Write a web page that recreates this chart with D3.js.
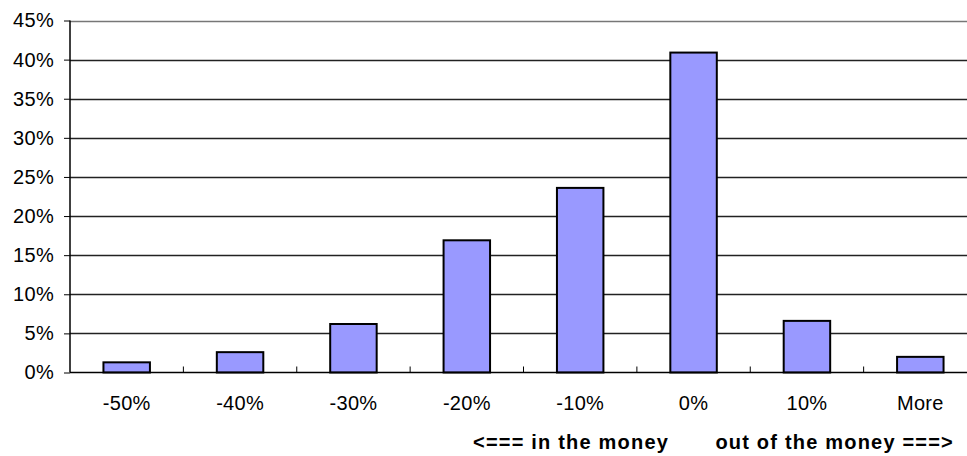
<!DOCTYPE html>
<html><head><meta charset="utf-8">
<script src="https://cdn.jsdelivr.net/npm/d3@7"></script>
<style>
body{margin:0;background:#fff;}
text{font-family:"Liberation Sans",Arial,sans-serif;}
</style></head>
<body><svg id="c" width="967" height="456"></svg>
<script>
const categories = ["-50%","-40%","-30%","-20%","-10%","0%","10%","More"];
const values = [1.3, 2.6, 6.2, 16.9, 23.6, 40.9, 6.6, 2.0];
const yTicks = [0,5,10,15,20,25,30,35,40,45];

(function(){
const svg = d3.select("#c");
const pl = 70, pr = 977, pt = 20.5, pb = 372.5;
const x = d3.scaleBand().domain(categories).range([pl, pr]).paddingInner(0.59).paddingOuter(0.295);
const y = d3.scaleLinear().domain([0,45]).range([pb, pt]);

// gridlines
svg.append("g").selectAll("line").data(yTicks.filter(d=>d>0)).join("line")
  .attr("x1", pl).attr("x2", pr)
  .attr("y1", d=>Math.round(y(d))+0.5).attr("y2", d=>Math.round(y(d))+0.5)
  .attr("stroke", d=> d===45 ? "#777" : "#222").attr("stroke-width", 1.3);

// bars
svg.append("g").selectAll("rect").data(values).join("rect")
  .attr("x", (d,i)=>x(categories[i]))
  .attr("width", x.bandwidth())
  .attr("y", d=>y(d))
  .attr("height", d=>pb - y(d))
  .attr("fill", "#9999ff").attr("stroke", "#000").attr("stroke-width", 2);

// y axis
const ya = svg.append("g").attr("transform", `translate(${pl},0)`)
  .call(d3.axisLeft(y).tickValues(yTicks).tickFormat(d=>d+"%").tickSize(6).tickPadding(10));
ya.select(".domain").attr("stroke","#000").attr("stroke-width",1.5).attr("d", `M0,${pt}V${pb}`);
ya.selectAll(".tick line").attr("stroke","#000");
ya.selectAll("text").attr("font-size", 20).attr("fill","#000").attr("letter-spacing", 0.3)
  .style("font-family","'Liberation Sans',Arial,sans-serif");

// x axis
const xTickScale = d3.scaleLinear().domain([0,8]).range([pl,pr]);
const xa = svg.append("g").attr("transform", `translate(0,${pb})`);
xa.append("line").attr("x1",pl).attr("x2",pr).attr("y1",0).attr("y2",0).attr("stroke","#000").attr("stroke-width",1.5);
xa.selectAll(".tk").data(d3.range(1,8)).join("line").attr("class","tk")
  .attr("x1", d=>xTickScale(d)).attr("x2", d=>xTickScale(d)).attr("y1",0).attr("y2",-6).attr("stroke","#000");
const xb = svg.append("g").attr("transform", `translate(0,${pb})`)
  .call(d3.axisBottom(x).tickSize(0).tickPadding(23));
xb.select(".domain").remove();
xb.selectAll("text").attr("font-size", 20).attr("fill","#000").attr("letter-spacing", 0.3)
  .style("font-family","'Liberation Sans',Arial,sans-serif");

// footer
svg.append("text").attr("x", 473).attr("y", 449).attr("font-size", 20).attr("font-weight","bold")
  .attr("letter-spacing", 1.2)
  .text("<=== in the money");
svg.append("text").attr("x", 954).attr("y", 449).attr("text-anchor","end").attr("font-size", 20).attr("font-weight","bold")
  .attr("letter-spacing", 1.2)
  .text("out of the money ===>");
})();
</script></body></html>
